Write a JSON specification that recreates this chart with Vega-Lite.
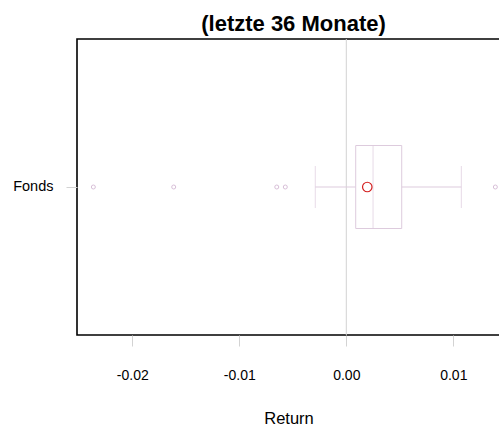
{
  "$schema": "https://vega.github.io/schema/vega-lite/v6.json",
  "autosize": "none",
  "padding": {"left": 77, "top": 39, "right": 0, "bottom": 92},
  "width": 423,
  "height": 296,
  "background": "white",
  "title": {
    "text": "(letzte 36 Monate)",
    "font": "Liberation Sans",
    "fontSize": 22,
    "fontWeight": "bold",
    "color": "black",
    "anchor": "middle",
    "dx": 5,
    "dy": 21.5,
    "baseline": "alphabetic",
    "offset": 7.5
  },
  "config": {
    "view": {"stroke": "black", "strokeWidth": 1.6},
    "axis": {"labelFont": "Liberation Sans", "titleFont": "Liberation Sans", "labelColor": "black", "titleColor": "black", "grid": false, "domain": false, "tickColor": "#D3D3D3"}
  },
  "datasets": {
    "stats": [{"name": "Fonds", "lo": -0.0029, "q1": 0.00088, "med": 0.0025, "q3": 0.00518, "hi": 0.01075, "mean": 0.00196}],
    "outliers": [
      {"name": "Fonds", "v": -0.02364},
      {"name": "Fonds", "v": -0.01613},
      {"name": "Fonds", "v": -0.0065},
      {"name": "Fonds", "v": -0.0057},
      {"name": "Fonds", "v": 0.01393}
    ],
    "zero": [{"v": 0}]
  },
  "encoding": {
    "y": {
      "field": "name", "type": "nominal",
      "axis": {"title": null, "labelFontSize": 14.5, "tickSize": 11, "labelPadding": 13, "labelAngle": 0}
    }
  },
  "layer": [
    {
      "data": {"name": "zero"},
      "mark": {"type": "rule", "color": "#D3D3D3", "strokeWidth": 1},
      "encoding": {
        "y": null,
        "x": {
          "field": "v", "type": "quantitative",
          "scale": {"domain": [-0.025168, 0.014364], "nice": false, "zero": false},
          "axis": {"title": "Return", "values": [-0.02, -0.01, 0, 0.01], "format": ".2f", "labelExpr": "replace(datum.label, '\u2212', '-')", "labelFontSize": 14, "tickSize": 11, "labelPadding": 22, "titleFontSize": 16.5, "titleFontWeight": "normal", "titleBaseline": "alphabetic", "titleY": 88}
        }
      }
    },
    {
      "data": {"name": "stats"},
      "mark": {"type": "rule", "color": "#DDCBDD", "strokeWidth": 1},
      "encoding": {"x": {"field": "lo", "type": "quantitative"}, "x2": {"field": "q1"}}
    },
    {
      "data": {"name": "stats"},
      "mark": {"type": "rule", "color": "#DDCBDD", "strokeWidth": 1},
      "encoding": {"x": {"field": "q3", "type": "quantitative"}, "x2": {"field": "hi"}}
    },
    {
      "data": {"name": "stats"},
      "mark": {"type": "tick", "color": "#DDCBDD", "size": 42, "thickness": 1, "orient": "vertical"},
      "encoding": {"x": {"field": "lo", "type": "quantitative"}}
    },
    {
      "data": {"name": "stats"},
      "mark": {"type": "tick", "color": "#DDCBDD", "size": 42, "thickness": 1, "orient": "vertical"},
      "encoding": {"x": {"field": "hi", "type": "quantitative"}}
    },
    {
      "data": {"name": "stats"},
      "mark": {"type": "bar", "height": 83, "fill": "white", "fillOpacity": 0, "stroke": "#DDCBDD", "strokeWidth": 1},
      "encoding": {"x": {"field": "q1", "type": "quantitative"}, "x2": {"field": "q3"}}
    },
    {
      "data": {"name": "stats"},
      "mark": {"type": "tick", "color": "#DDCBDD", "size": 83, "thickness": 1, "orient": "vertical"},
      "encoding": {"x": {"field": "med", "type": "quantitative"}}
    },
    {
      "data": {"name": "outliers"},
      "mark": {"type": "point", "shape": "circle", "filled": false, "size": 16, "color": "#D8BFD8", "strokeWidth": 1, "opacity": 1},
      "encoding": {"x": {"field": "v", "type": "quantitative"}}
    },
    {
      "data": {"name": "stats"},
      "mark": {"type": "point", "shape": "circle", "filled": false, "size": 90, "color": "#D42020", "strokeWidth": 1.2, "opacity": 1},
      "encoding": {"x": {"field": "mean", "type": "quantitative"}}
    }
  ]
}
